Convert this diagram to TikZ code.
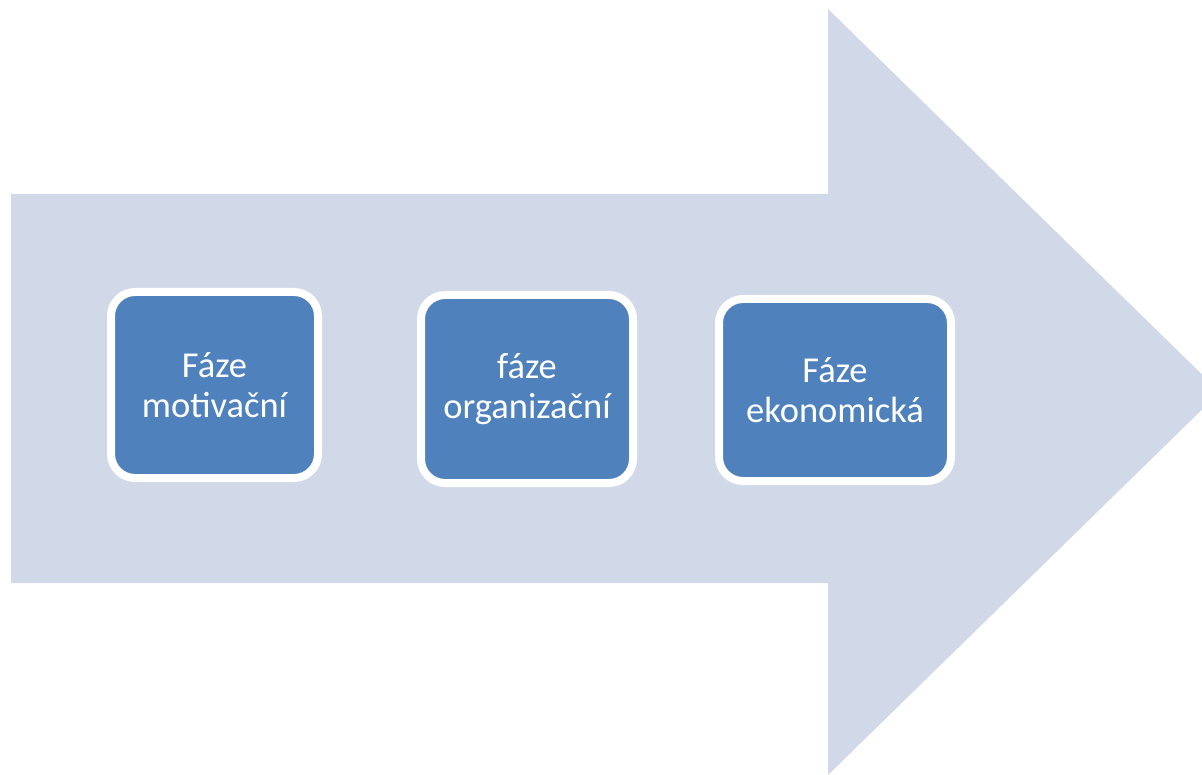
\documentclass[tikz,border=0pt]{standalone}
\usepackage{fontspec}
\setmainfont{Carlito}
\definecolor{arrowfill}{HTML}{D1D8E7}
\definecolor{boxfill}{HTML}{4F81BD}
\begin{document}
\begin{tikzpicture}[x=1pt,y=-1pt,
  phase/.style={draw=white, line width=8pt, fill=boxfill, rounded corners=24pt,
    text=white, align=center, inner sep=0pt,
    font=\fontsize{36.5}{40}\selectfont}]
\useasboundingbox (0,0) rectangle (1202,775);
\fill[arrowfill] (11,194) -- (828,194) -- (828,9) -- (1220,392) -- (828,775) -- (828,583) -- (11,583) -- cycle;
\node[phase, minimum width=207pt, minimum height=186pt] (p1) at (214.5,385) {Fáze\\motivační};
\node[phase, minimum width=212pt, minimum height=188pt] (p2) at (527,389) {fáze\\organizační};
\node[phase, minimum width=232pt, minimum height=182pt] (p3) at (835,390) {Fáze\\ekonomická};
\end{tikzpicture}
\end{document}
